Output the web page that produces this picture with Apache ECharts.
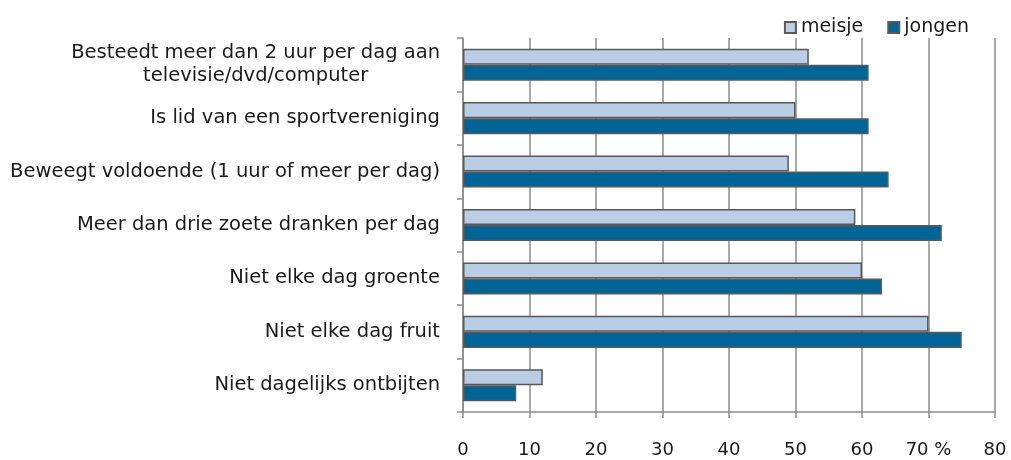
<!DOCTYPE html>
<html>
<head>
<meta charset="utf-8">
<script src="https://cdn.jsdelivr.net/npm/echarts@6/dist/echarts.min.js"></script>
<style>html,body{margin:0;padding:0;background:#fff}#c{width:1011px;height:460px}</style>
</head>
<body>
<div id="c"></div>
<script>
const categories = [
  'Besteedt meer dan 2 uur per dag aan\ntelevisie/dvd/computer',
  'Is lid van een sportvereniging',
  'Beweegt voldoende (1 uur of meer per dag)',
  'Meer dan drie zoete dranken per dag',
  'Niet elke dag groente',
  'Niet elke dag fruit',
  'Niet dagelijks ontbijten'
];
const meisje = [52, 50, 49, 59, 60, 70, 12];
const jongen = [61, 61, 64, 72, 63, 75, 8];
const tickLabels = ['0', '10', '20', '30', '40', '50', '60', '70 %', '80'];
const seriesNames = ['meisje', 'jongen'];

const FONT = 'DejaVu Sans';
const chart = echarts.init(document.getElementById('c'), null, {renderer: 'canvas'});
chart.setOption({
  animation: false,
  backgroundColor: '#fff',
  textStyle: {fontFamily: FONT},
  legend: {
    data: seriesNames,
    right: 37, top: 13,
    itemWidth: 11, itemHeight: 11, itemGap: 24,
    icon: 'rect',
    textStyle: {fontSize: 19, color: '#1a1a1a', fontFamily: FONT}
  },
  grid: {left: 463, right: 16, top: 38, bottom: 48, containLabel: false},
  xAxis: {
    type: 'value', min: 0, max: 80, interval: 10,
    axisLine: {show: true, lineStyle: {color: '#8c8c8c', width: 1.5}},
    axisTick: {show: true, length: 6, lineStyle: {color: '#8c8c8c', width: 1.5}},
    splitLine: {show: true, lineStyle: {color: '#8c8c8c', width: 1.5}},
    axisLabel: {
      margin: 29, fontSize: 18, color: '#1a1a1a', fontFamily: FONT,
      formatter: (v) => tickLabels[Math.round(v / 10)]
    }
  },
  yAxis: {
    type: 'category', data: categories, inverse: true,
    axisLine: {show: true, lineStyle: {color: '#8c8c8c', width: 1.5}},
    axisTick: {show: true, length: 6, lineStyle: {color: '#8c8c8c', width: 1.5}},
    axisLabel: {
      margin: 23, fontSize: 19.5, color: '#1a1a1a', fontFamily: FONT, lineHeight: 23,
      formatter: (v) => v.split('\n').map(s => '{c|' + s + '}').join('\n'),
      rich: {c: {align: 'center', fontSize: 19.5, lineHeight: 23, color: '#1a1a1a', fontFamily: FONT}}
    }
  },
  series: [
    {
      name: seriesNames[0], type: 'bar', data: meisje,
      barGap: '0%', barCategoryGap: '40%',
      itemStyle: {color: '#b9cde5', borderColor: '#595959', borderWidth: 1.5}
    },
    {
      name: seriesNames[1], type: 'bar', data: jongen,
      barGap: '0%', barCategoryGap: '40%',
      itemStyle: {color: '#006496', borderColor: '#595959', borderWidth: 1.5}
    }
  ]
});
</script>
</body>
</html>
